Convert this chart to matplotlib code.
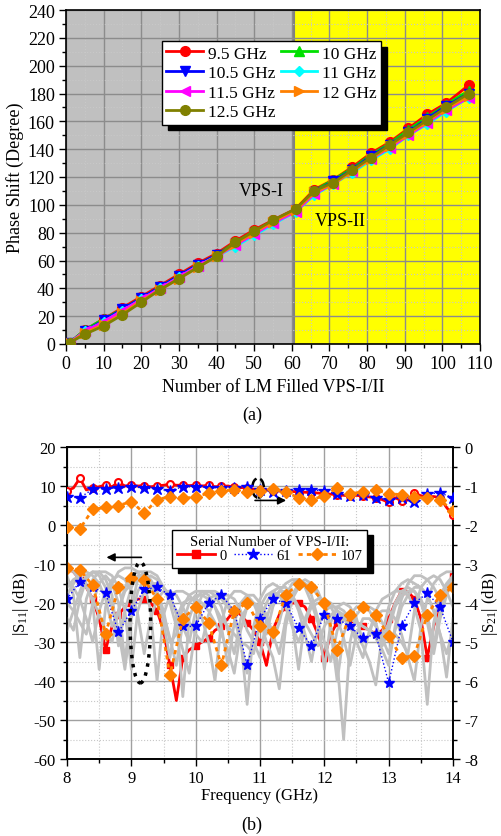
import matplotlib
matplotlib.use("Agg")
import matplotlib.pyplot as plt
import numpy as np
from matplotlib.lines import Line2D
from matplotlib.patches import Ellipse
from matplotlib.ticker import MultipleLocator

plt.rcParams["font.family"] = ["Liberation Serif", "DejaVu Serif"]
plt.rcParams["mathtext.fontset"] = "custom"
plt.rcParams["mathtext.rm"] = "Liberation Serif"
plt.rcParams["mathtext.it"] = "Liberation Serif:italic"
plt.rcParams["axes.unicode_minus"] = False
plt.rcParams["font.size"] = 12

# ---------------- (a) phase shift data ----------------
n_filled = [1, 5, 10, 15, 20, 25, 30, 35, 40, 45, 50, 55, 61, 66, 71, 76, 81, 86, 91, 96, 101, 107]
phase_95 = [1, 10, 18, 26, 34, 42, 50, 58, 65, 74, 82, 89, 97, 111, 118, 127, 137, 145, 155, 165, 173, 186]
phase_10 = [1, 10, 18, 25, 33, 41, 49, 57, 64, 73, 81, 88, 96, 110, 118, 126, 136, 144, 154, 163, 172, 182]
phase_105 = [1, 9, 17, 25, 33, 41, 49, 57, 64, 72, 80, 87, 96, 109, 117, 125, 135, 143, 152, 162, 171, 180]
phase_11 = [1, 9, 16, 24, 32, 40, 48, 56, 63, 70, 78, 86, 95, 107, 115, 123, 132, 140, 150, 158, 167, 177]
phase_115 = [1, 9, 16, 24, 32, 40, 48, 56, 63, 71, 79, 87, 95, 108, 115, 124, 133, 141, 150, 159, 168, 177]
phase_12 = [1, 8, 14, 22, 31, 39, 47, 55, 63, 72, 80, 88, 96, 109, 115, 124, 133, 142, 151, 160, 169, 178]
phase_125 = [1, 7, 13, 21, 30, 39, 47, 55, 63, 73, 81, 89, 97, 110, 116, 125, 134, 143, 152, 161, 170, 180]

# ---------------- (b) S-parameter data ----------------
freq_fine = np.round(np.arange(80, 141) / 10, 1)     # 8.0 .. 14.0 step 0.1
freq_coarse = np.round(np.arange(40, 71) / 5, 1)     # 8.0 .. 14.0 step 0.2

s11_gray = [
    [-13, -18, -34, -19, -14, -12, -12, -13, -16, -22, -37, -22, -17, -15, -15, -16, -18, -23, -44, -24,
     -19, -17, -17, -18, -21, -27, -33, -24, -21, -20, -21, -24, -30, -25, -18, -15, -14, -15, -18, -24,
     -37, -25, -21, -20, -21, -24, -30, -28, -22, -19, -18, -17, -17, -18, -21, -27, -46, -25, -18, -15, -13],
    [-16, -14, -13, -15, -20, -37, -21, -15, -12, -11, -11, -12, -15, -22, -40, -23, -18, -17, -17, -18,
     -20, -24, -30, -40, -25, -19, -17, -17, -18, -20, -24, -30, -34, -42, -26, -19, -16, -15, -16, -18,
     -21, -26, -35, -55, -30, -23, -21, -21, -22, -25, -29, -28, -30, -33, -22, -16, -14, -13, -14, -17, -21],
    [-20, -22, -25, -28, -20, -15, -13, -15, -20, -35, -21, -14, -12, -12, -13, -16, -19, -22, -26, -30,
     -22, -18, -17, -17, -18, -20, -23, -29, -46, -26, -19, -16, -15, -16, -19, -25, -37, -24, -20, -19,
     -19, -20, -22, -24, -26, -28, -31, -35, -41, -28, -21, -17, -15, -14, -15, -16, -18, -22, -28, -39, -24],
    [-11, -12, -14, -16, -19, -23, -27, -30, -22, -17, -15, -14, -14, -16, -19, -25, -34, -24, -20, -19,
     -19, -20, -22, -25, -28, -32, -38, -27, -21, -20, -23, -28, -21, -17, -15, -14, -14, -16, -20, -25,
     -30, -35, -27, -24, -24, -25, -26, -27, -29, -32, -36, -26, -19, -15, -13, -13, -14, -16, -19, -17, -15],
    [-14, -16, -19, -24, -30, -22, -17, -14, -13, -14, -17, -23, -33, -24, -19, -17, -17, -18, -21, -25,
     -28, -30, -23, -19, -18, -18, -19, -22, -27, -30, -34, -24, -19, -17, -17, -18, -21, -25, -28, -31,
     -26, -23, -22, -23, -26, -30, -34, -27, -23, -22, -22, -24, -28, -34, -40, -26, -19, -15, -13, -12, -12],
    [-24, -27, -19, -14, -12, -12, -14, -18, -31, -22, -16, -13, -13, -15, -18, -23, -29, -36, -25, -20,
     -18, -18, -19, -21, -24, -26, -28, -30, -31, -33, -25, -20, -17, -16, -16, -18, -22, -28, -35, -26,
     -22, -21, -21, -22, -24, -25, -26, -27, -28, -30, -25, -20, -17, -16, -17, -20, -25, -33, -24, -18, -14],
    [-27, -22, -17, -13, -12, -13, -16, -21, -27, -37, -24, -17, -14, -13, -14, -16, -20, -26, -32, -38,
     -26, -21, -19, -18, -19, -21, -24, -30, -38, -27, -21, -18, -17, -18, -21, -26, -30, -25, -21, -20,
     -20, -21, -24, -29, -36, -28, -24, -24, -26, -29, -33, -27, -21, -18, -16, -16, -18, -22, -28, -33, -27],
    [-18, -15, -13, -12, -13, -15, -19, -26, -22, -16, -13, -12, -12, -14, -17, -22, -30, -28, -21, -18,
     -17, -17, -18, -21, -26, -36, -25, -20, -18, -18, -20, -23, -28, -33, -24, -18, -15, -14, -15, -17,
     -21, -27, -40, -28, -23, -21, -21, -22, -25, -31, -27, -21, -18, -17, -17, -19, -23, -31, -22, -16, -13],
]

s11_vps0 = [-11, -12, -14, -16, -19, -24, -32, -26, -23, -21, -20, -19, -19, -20, -22, -27, -36, -45, -34, -32,
            -31, -30, -29, -27, -26, -24, -22, -23, -25, -27, -30, -36, -27, -23, -21, -20, -20, -21, -24, -28,
            -34, -28, -25, -24, -24, -25, -26, -27, -28, -27, -24, -20, -17, -17, -19, -24, -34, -26, -20, -16, -13]
s21_vps0 = [-1.12, -1.05, -0.80, -1.10, -1.05, -1.02, -0.97, -1.02, -0.90, -1.00, -0.98, -1.00, -0.99, -1.02,
            -1.00, -0.98, -0.95, -0.98, -0.98, -0.99, -0.98, -1.00, -0.98, -1.02, -1.01, -1.00, -1.03, -1.04,
            -1.05, -1.08, -1.10, -1.10, -1.12, -1.13, -1.15, -1.14, -1.15, -1.16, -1.17, -1.18, -1.20, -1.21,
            -1.22, -1.24, -1.25, -1.24, -1.26, -1.28, -1.30, -1.35, -1.42, -1.30, -1.38, -1.36, -1.18, -1.25,
            -1.28, -1.27, -1.30, -1.55, -1.75]

s11_vps61 = [-19, -14.5, -16, -17.5, -27.5, -22, -16.5, -16, -18, -26, -26, -20, -18, -22, -36, -24,
             -19, -20, -26.5, -31, -23, -24, -26, -29, -28, -40.5, -26, -20, -17.5, -21, -30]
s21_vps61 = [-1.28, -1.30, -1.08, -1.07, -1.05, -1.02, -1.05, -1.08, -1.12, -1.02, -1.02, -1.04, -1.05,
             -1.05, -1.03, -1.10, -1.15, -1.12, -1.09, -1.10, -1.12, -1.20, -1.25, -1.22, -1.32, -1.35,
             -1.30, -1.42, -1.20, -1.18, -1.30]

s11_vps107 = [-11, -11.5, -15.5, -28, -16, -13.5, -14, -19, -38.5, -24, -21, -25, -36, -22, -20, -26,
              -27.5, -18, -15, -16, -20, -32, -23, -21, -23, -28.5, -34, -33.5, -23, -18, -16]
s21_vps107 = [-2.05, -2.10, -1.60, -1.55, -1.50, -1.40, -1.70, -1.35, -1.27, -1.32, -1.28, -1.18, -1.12,
              -1.10, -1.15, -1.12, -1.08, -1.15, -1.30, -1.35, -1.25, -1.05, -1.20, -1.15, -1.10, -1.20,
              -1.22, -1.28, -1.32, -1.35, -1.65]

W, H = 502, 837
fig = plt.figure(figsize=(W / 100, H / 100), dpi=100)


def px_axes(left, top, right, bottom):
    return fig.add_axes([left / W, 1 - bottom / H, (right - left) / W, (bottom - top) / H])


def style_ticks(ax, size):
    ax.tick_params(which="both", direction="out", labelsize=size)
    ax.tick_params(which="major", length=5, width=1, pad=3)
    ax.tick_params(which="minor", length=3, width=1)
    for sp in ax.spines.values():
        sp.set_linewidth(1.2)


# ======================= (a) =======================
ax1 = px_axes(66, 11, 480, 345)
ax1.axvspan(0, 60.5, color="#c0c0c0", zorder=0)
ax1.axvspan(60.5, 110, color="#ffff00", zorder=0)
ax1.axvline(60.5, color="#808080", lw=1.5, zorder=1)

series_a = [
    ("9.5 GHz", phase_95, "#ff0000", "o"),
    ("10 GHz", phase_10, "#00e000", "^"),
    ("10.5 GHz", phase_105, "#0000ff", "v"),
    ("11 GHz", phase_11, "#00ffff", "D"),
    ("11.5 GHz", phase_115, "#ff00ff", "<"),
    ("12 GHz", phase_12, "#ff8000", ">"),
    ("12.5 GHz", phase_125, "#808000", "o"),
]
handles = {}
for label, vals, col, mk in series_a:
    ms = 5 if mk == "D" else 7
    (h,) = ax1.plot(n_filled, vals, color=col, marker=mk, ms=ms, lw=2, label=label, zorder=3)
    handles[label] = h

ax1.set_xlim(0, 110)
ax1.set_ylim(0, 240)
ax1.xaxis.set_major_locator(MultipleLocator(10))
ax1.xaxis.set_minor_locator(MultipleLocator(5))
ax1.yaxis.set_major_locator(MultipleLocator(20))
ax1.yaxis.set_minor_locator(MultipleLocator(10))
ax1.grid(which="major", color="#8c8c8c", lw=1)
ax1.grid(which="minor", color="#c8c8c8", lw=0.8, ls=":")
for gl in ax1.get_xgridlines() + ax1.get_ygridlines():
    gl.set_zorder(1.5)
style_ticks(ax1, 13)
ax1.set_xlabel("Number of LM Filled VPS-I/II", fontsize=13, labelpad=4)
ax1.set_ylabel("Phase Shift (Degree)", fontsize=13, labelpad=3)

ax1.text(52, 110, "VPS-I", ha="center", va="center", fontsize=13, zorder=4)
ax1.text(73, 89, "VPS-II", ha="center", va="center", fontsize=13, zorder=4)

order = ["9.5 GHz", "10.5 GHz", "11.5 GHz", "12.5 GHz", "10 GHz", "11 GHz", "12 GHz"]
leg1 = ax1.legend([handles[k] for k in order], order, ncol=2, loc="upper left",
                  bbox_to_anchor=(0.232, 0.907), fancybox=False, framealpha=1,
                  edgecolor="black", fontsize=12.5, handlelength=2.1, handletextpad=0.3,
                  columnspacing=0.3, labelspacing=0.2, borderpad=0.25, borderaxespad=0,
                  shadow={"ox": 4, "oy": -4, "color": "black", "alpha": 1})
leg1.get_frame().set_linewidth(1)
leg1.set_zorder(6)

fig.text(252 / W, 1 - 415 / H, "(a)", ha="center", va="center", fontsize=13)

# ======================= (b) =======================
ax2 = px_axes(67, 448, 453, 760)
ax2r = ax2.twinx()

ax2.plot(freq_fine, s11_vps0, color="#ff0000", lw=2, marker="s", ms=5, markevery=2, zorder=2)
for g in s11_gray:
    ax2.plot(freq_fine, g, color="#c0c0c0", lw=2, zorder=3)
ax2.plot(freq_coarse, s11_vps61, color="#0000ff", lw=1, ls=":", marker="*", ms=8, zorder=4)
ax2.plot(freq_coarse, s11_vps107, color="#ff8000", lw=2, ls=(0, (1.5, 1.5)), marker="D", ms=6, zorder=5)

ax2.set_xlim(8, 14)
ax2.set_ylim(-60, 20)
ax2.xaxis.set_major_locator(MultipleLocator(1))
ax2.xaxis.set_minor_locator(MultipleLocator(0.5))
ax2.yaxis.set_major_locator(MultipleLocator(10))
ax2.yaxis.set_minor_locator(MultipleLocator(5))
ax2.grid(which="major", color="#a0a0a0", lw=1)
ax2.grid(which="minor", color="#c8c8c8", lw=0.8, ls=":")
ax2.set_axisbelow(True)
style_ticks(ax2, 12)
ax2.set_xlabel("Frequency (GHz)", fontsize=12, labelpad=1)
ax2.set_ylabel("|S$_{11}$| (dB)", fontsize=12, labelpad=2)

ax2r.plot(freq_fine, s21_vps0, color="#ff0000", lw=2, marker="o", ms=5, markevery=2,
          mfc="white", mec="#ff0000", mew=1.5, zorder=3)
ax2r.plot(freq_coarse, s21_vps61, color="#0000ff", lw=1, ls=":", marker="*", ms=9, zorder=4)
ax2r.plot(freq_coarse, s21_vps107, color="#ff8000", lw=2, ls=(0, (1.5, 1.5)), marker="D", ms=6, zorder=5)
ax2r.set_ylim(-8, 0)
ax2r.yaxis.set_major_locator(MultipleLocator(1))
ax2r.yaxis.set_minor_locator(MultipleLocator(0.5))
style_ticks(ax2r, 12)
ax2r.set_ylabel("|S$_{21}$| (dB)", fontsize=12, labelpad=1)

# annotations: ellipses + arrows
ax2.add_patch(Ellipse((9.14, -25), 0.32, 31, fill=False, ec="black", lw=2.5, ls=":", zorder=6))
ax2.annotate("", xy=(8.57, -8.3), xytext=(9.2, -8.3),
             arrowprops=dict(arrowstyle="-|>", color="black", lw=1.2), zorder=6)
ax2.add_patch(Ellipse((10.97, 9.5), 0.18, 5, fill=False, ec="black", lw=1.8, ls="--", zorder=6))
ax2.annotate("", xy=(11.45, 6.3), xytext=(10.88, 6.3),
             arrowprops=dict(arrowstyle="-|>", color="black", lw=1.2), zorder=6)

hb = [
    Line2D([], [], color="#ff0000", lw=2, marker="s", ms=6),
    Line2D([], [], color="#0000ff", lw=1, ls=":", marker="*", ms=9),
    Line2D([], [], color="#ff8000", lw=2, ls=(0, (1.5, 1.5)), marker="D", ms=6),
]
leg2 = ax2r.legend(hb, ["0", "61", "107"], ncol=3, loc="upper left",
                   bbox_to_anchor=(0.272, 0.735), title="Serial Number of VPS-I/II:",
                   title_fontsize=10.5, fontsize=10.5, fancybox=False, framealpha=1,
                   edgecolor="black", handlelength=2.6, handletextpad=0.3,
                   columnspacing=0.5, borderpad=0.35, borderaxespad=0, labelspacing=0.1,
                   shadow={"ox": 4, "oy": -4, "color": "black", "alpha": 1})
leg2.get_frame().set_linewidth(1)
leg2.set_zorder(10)

fig.text(252 / W, 1 - 825 / H, "(b)", ha="center", va="center", fontsize=13)

fig.savefig("out.png", dpi=100)
